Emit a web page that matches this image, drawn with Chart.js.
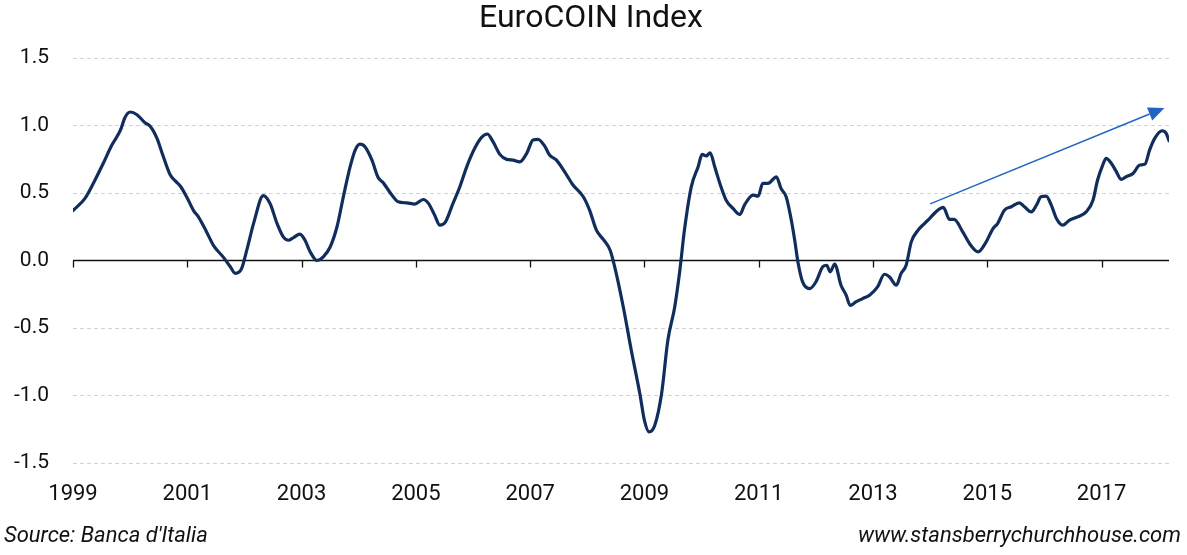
<!DOCTYPE html>
<html>
<head>
<meta charset="utf-8">
<title>EuroCOIN Index</title>
<script src="https://cdn.jsdelivr.net/npm/chart.js@4.4.1/dist/chart.umd.min.js"></script>
<style>
  html, body { margin: 0; padding: 0; background: #fff; }
  #wrap { width: 1187px; height: 555px; }
</style>
</head>
<body>
<div id="wrap"><canvas id="chart" width="1187" height="555"></canvas></div>
<script>
// --- DATA ---
const years = [
  1999.00, 1999.21, 1999.39, 1999.53, 1999.68, 1999.83, 1999.91, 2000.00, 2000.12, 2000.26,
  2000.35, 2000.47, 2000.58, 2000.70, 2000.79, 2000.88, 2000.99, 2001.11, 2001.20, 2001.34,
  2001.46, 2001.63, 2001.75, 2001.84, 2001.95, 2002.04, 2002.17, 2002.33, 2002.45, 2002.57,
  2002.68, 2002.77, 2002.86, 2002.97, 2003.06, 2003.15, 2003.27, 2003.38, 2003.50, 2003.62,
  2003.73, 2003.85, 2003.94, 2004.02, 2004.11, 2004.23, 2004.34, 2004.43, 2004.58, 2004.69,
  2004.84, 2004.98, 2005.13, 2005.22, 2005.33, 2005.42, 2005.51, 2005.65, 2005.77, 2005.89,
  2006.03, 2006.15, 2006.25, 2006.35, 2006.47, 2006.59, 2006.70, 2006.82, 2006.94, 2007.05,
  2007.14, 2007.26, 2007.34, 2007.46, 2007.64, 2007.75, 2007.93, 2008.04, 2008.16, 2008.28,
  2008.40, 2008.48, 2008.63, 2008.77, 2008.92, 2009.00, 2009.08, 2009.18, 2009.30, 2009.41,
  2009.53, 2009.62, 2009.70, 2009.82, 2009.94, 2010.01, 2010.08, 2010.15, 2010.23, 2010.32,
  2010.43, 2010.55, 2010.67, 2010.75, 2010.90, 2010.99, 2011.07, 2011.16, 2011.31, 2011.39,
  2011.48, 2011.57, 2011.63, 2011.69, 2011.77, 2011.89, 2012.00, 2012.12, 2012.19, 2012.25,
  2012.33, 2012.44, 2012.53, 2012.60, 2012.70, 2012.82, 2012.94, 2013.08, 2013.20, 2013.29,
  2013.41, 2013.49, 2013.58, 2013.67, 2013.79, 2013.90, 2013.99, 2014.10, 2014.23, 2014.34,
  2014.42, 2014.57, 2014.71, 2014.84, 2014.97, 2015.10, 2015.18, 2015.30, 2015.42, 2015.56,
  2015.65, 2015.77, 2015.86, 2015.94, 2016.03, 2016.12, 2016.21, 2016.32, 2016.44, 2016.58,
  2016.73, 2016.85, 2016.93, 2017.02, 2017.08, 2017.17, 2017.26, 2017.34, 2017.43, 2017.55,
  2017.67, 2017.76, 2017.84, 2017.93, 2018.06, 2018.13, 2018.18
];
const indexValues = [
  0.37, 0.46, 0.60, 0.72, 0.855, 0.965, 1.06, 1.10, 1.08, 1.02,
  0.995, 0.905, 0.77, 0.635, 0.59, 0.55, 0.47, 0.37, 0.32, 0.21,
  0.11, 0.025, -0.045, -0.095, -0.06, 0.075, 0.29, 0.48, 0.42, 0.275,
  0.175, 0.15, 0.17, 0.195, 0.15, 0.065, 0.0, 0.027, 0.10, 0.25,
  0.47, 0.695, 0.82, 0.862, 0.843, 0.745, 0.615, 0.575, 0.485, 0.435,
  0.427, 0.418, 0.452, 0.423, 0.335, 0.262, 0.28, 0.423, 0.546, 0.694,
  0.831, 0.912, 0.937, 0.88, 0.786, 0.749, 0.744, 0.731, 0.794, 0.892,
  0.897, 0.843, 0.781, 0.744, 0.633, 0.559, 0.472, 0.373, 0.225, 0.156,
  0.076, -0.047, -0.344, -0.665, -0.987, -1.185, -1.27, -1.222, -0.987, -0.591,
  -0.344, -0.072, 0.225, 0.546, 0.694, 0.786, 0.774, 0.798, 0.694, 0.571,
  0.447, 0.386, 0.341, 0.41, 0.484, 0.477, 0.571, 0.571, 0.62, 0.534,
  0.472, 0.30, 0.15, -0.02, -0.16, -0.208, -0.159, -0.047, -0.035, -0.084,
  -0.027, -0.183, -0.257, -0.332, -0.307, -0.282, -0.257, -0.196, -0.102, -0.122,
  -0.183, -0.097, -0.035, 0.138, 0.225, 0.274, 0.311, 0.36, 0.393, 0.304,
  0.304, 0.212, 0.113, 0.064, 0.13, 0.237, 0.274, 0.373, 0.398, 0.427,
  0.398, 0.36, 0.41, 0.472, 0.477, 0.41, 0.311, 0.262, 0.299, 0.323,
  0.36, 0.447, 0.596, 0.707, 0.757, 0.72, 0.657, 0.601, 0.62, 0.645,
  0.707, 0.714, 0.818, 0.905, 0.961, 0.942, 0.887
];
const xTickYears = [1999, 2001, 2003, 2005, 2007, 2009, 2011, 2013, 2015, 2017];
const yTickValues = [-1.5, -1.0, -0.5, 0.0, 0.5, 1.0, 1.5];
// trend arrow: start and tip, in data units
const arrowYears = [2014.0, 2018.1];
const arrowValues = [0.42, 1.13];

const titleText = 'EuroCOIN Index';
const sourceText = "Source: Banca d'Italia";
const siteText = 'www.stansberrychurchhouse.com';

const FONT = "Roboto, 'Noto Sans', sans-serif";

// --- EXTRA DRAWING: zero axis with ticks, trend arrow, footer notes ---
const extras = {
  id: 'extras',
  beforeDatasetsDraw(chart) {
    const { ctx, chartArea, scales } = chart;
    const y0 = scales.y.getPixelForValue(0);
    ctx.save();
    ctx.strokeStyle = '#111';
    ctx.lineWidth = 1.5;
    ctx.beginPath();
    ctx.moveTo(chartArea.left, y0);
    ctx.lineTo(chartArea.right, y0);
    ctx.stroke();
    ctx.lineWidth = 1.3;
    xTickYears.forEach(yr => {
      const x = Math.round(scales.x.getPixelForValue(yr)) + 0.5;
      ctx.beginPath();
      ctx.moveTo(x, y0);
      ctx.lineTo(x, y0 + 7);
      ctx.stroke();
    });
    ctx.restore();
  },
  afterDraw(chart) {
    const { ctx, scales } = chart;
    // trend arrow
    const x1 = scales.x.getPixelForValue(arrowYears[0]);
    const y1 = scales.y.getPixelForValue(arrowValues[0]);
    const x2 = scales.x.getPixelForValue(arrowYears[1]);
    const y2 = scales.y.getPixelForValue(arrowValues[1]);
    const ang = Math.atan2(y2 - y1, x2 - x1);
    const headLen = 16, headHalf = 7;
    const bx = x2 - headLen * Math.cos(ang);
    const by = y2 - headLen * Math.sin(ang);
    ctx.save();
    ctx.strokeStyle = '#1f66c2';
    ctx.fillStyle = '#1f66c2';
    ctx.lineWidth = 1.4;
    ctx.beginPath();
    ctx.moveTo(x1, y1);
    ctx.lineTo(bx, by);
    ctx.stroke();
    ctx.beginPath();
    ctx.moveTo(x2, y2);
    ctx.lineTo(bx + headHalf * Math.sin(ang), by - headHalf * Math.cos(ang));
    ctx.lineTo(bx - headHalf * Math.sin(ang), by + headHalf * Math.cos(ang));
    ctx.closePath();
    ctx.fill();

    // footer notes
    ctx.fillStyle = '#111';
    ctx.font = 'italic 22px ' + FONT;
    ctx.textBaseline = 'alphabetic';
    ctx.textAlign = 'left';
    ctx.fillText(sourceText, 4, 542);
    ctx.textAlign = 'right';
    ctx.fillText(siteText, 1181, 542);
    ctx.restore();
  }
};

const ctx = document.getElementById('chart').getContext('2d');
new Chart(ctx, {
  type: 'line',
  data: {
    datasets: [{
      label: titleText,
      data: years.map((yr, i) => ({ x: yr, y: indexValues[i] })),
      borderColor: '#112d5c',
      borderWidth: 3.2,
      pointRadius: 0,
      fill: false,
      cubicInterpolationMode: 'monotone',
      borderCapStyle: 'round',
      borderJoinStyle: 'round'
    }]
  },
  options: {
    responsive: false,
    animation: false,
    layout: { padding: { top: 0, right: 18, bottom: 52, left: 13 } },
    plugins: {
      legend: { display: false },
      tooltip: { enabled: false },
      title: {
        display: true,
        text: titleText,
        color: '#111',
        font: { family: FONT, size: 32, weight: 'normal' },
        padding: { top: 0, bottom: 19.6 }
      }
    },
    scales: {
      x: {
        type: 'linear',
        min: years[0],
        max: years[years.length - 1],
        afterBuildTicks: scale => { scale.ticks = xTickYears.map(v => ({ value: v })); },
        afterFit: scale => { scale.height = 40; },
        grid: { display: false, drawTicks: false },
        border: { display: false },
        ticks: {
          color: '#111',
          padding: 18,
          maxRotation: 0,
          autoSkip: false,
          font: { family: FONT, size: 22 },
          callback: v => String(v)
        }
      },
      y: {
        min: -1.5,
        max: 1.5,
        afterBuildTicks: scale => { scale.ticks = yTickValues.map(v => ({ value: v })); },
        afterFit: scale => { scale.width = 60; },
        grid: {
          drawTicks: false,
          lineWidth: 1,
          color: c => (c.tick && c.tick.value === 0) ? 'rgba(0,0,0,0)' : '#d2d2d2'
        },
        border: { display: false, dash: [4, 3] },
        ticks: {
          color: '#111',
          padding: 24,
          font: { family: FONT, size: 21 },
          callback: v => Number(v).toFixed(1)
        }
      }
    }
  },
  plugins: [extras]
});
</script>
</body>
</html>
